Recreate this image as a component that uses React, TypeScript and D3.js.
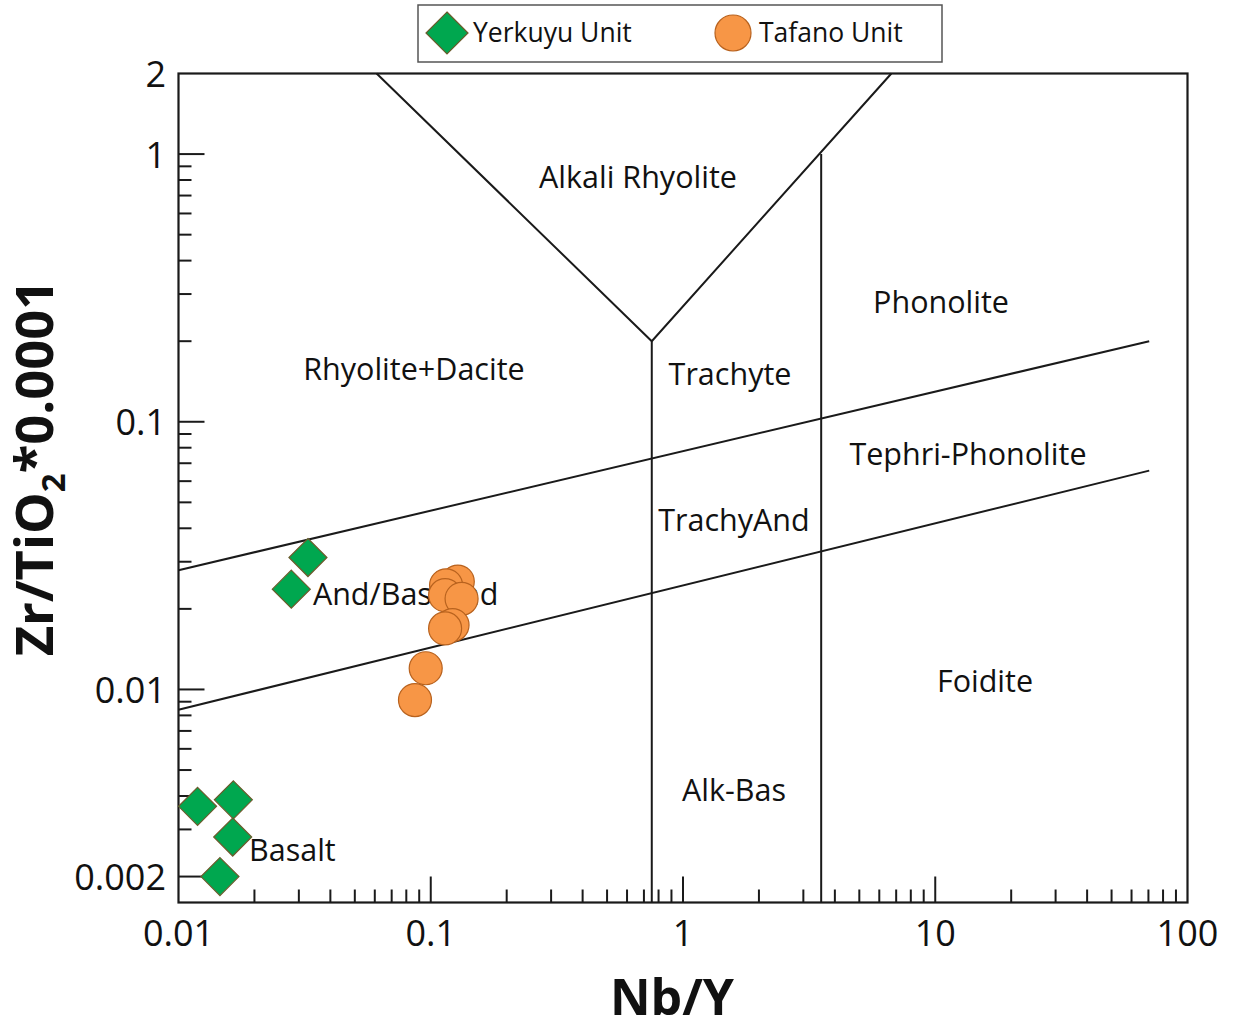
import React from "react";
import * as d3 from "d3";

// Nb/Y vs Zr/TiO2*0.0001 classification diagram (after Pearce, 1996)
const yerkuyuNbY = [0.0119, 0.0165, 0.0164, 0.0146, 0.0326, 0.028];
const yerkuyuZrTi = [0.00366, 0.00387, 0.00281, 0.002, 0.0311, 0.0237];

const tafanoNbY = [0.128, 0.115, 0.114, 0.1325, 0.122, 0.114, 0.0955, 0.0866];
const tafanoZrTi = [0.0253, 0.0245, 0.0225, 0.0218, 0.0174, 0.0169, 0.012, 0.00913];

// Field boundaries as [Nb/Y, Zr/TiO2] vertices
const boundaryLines: [number, number][][] = [
  [[0.061, 2], [0.752, 0.2], [6.7, 2]],
  [[0.752, 0.2], [0.752, 0.0016]],
  [[3.53, 1.0], [3.53, 0.0016]],
  [[0.01, 0.0279], [70.5, 0.2]],
  [[0.01, 0.0084], [70.5, 0.0657]],
];

const fieldNames = [
  "Alkali Rhyolite",
  "Phonolite",
  "Rhyolite+Dacite",
  "Trachyte",
  "Tephri-Phonolite",
  "TrachyAnd",
  "And/Bas-And",
  "Foidite",
  "Alk-Bas",
  "Basalt",
];
// label anchor positions in data units
const fieldX = [0.663, 10.54, 0.0858, 1.536, 13.48, 1.593, 0.0341, 15.75, 1.593, 0.01904];
const fieldY = [0.827, 0.2825, 0.1587, 0.152, 0.0764, 0.0433, 0.0229, 0.01084, 0.00425, 0.002535];
const fieldAnchor = ["middle", "middle", "middle", "middle", "middle", "middle", "start", "middle", "middle", "start"];

const xTickLabels = ["0.01", "0.1", "1", "10", "100"];
const xTickValues = [0.01, 0.1, 1, 10, 100];
const yTickLabels = ["2", "1", "0.1", "0.01", "0.002"];
const yTickValues = [2, 1, 0.1, 0.01, 0.002];

const FONT = "'Open Sans', 'Noto Sans', sans-serif";

export default function App() {
  const width = 1240;
  const height = 1031;
  const left = 178.5;
  const right = 1187.5;
  const top = 73.5;
  const bottom = 902.5;

  const x = d3.scaleLog().domain([0.01, 100]).range([left, right]);
  const y = d3.scaleLog().domain([0.0016, 2]).range([bottom, top]);

  const line = d3
    .line<[number, number]>()
    .x((d) => x(d[0]))
    .y((d) => y(d[1]));

  // minor ticks
  const xMinor: number[] = [];
  [0.01, 0.1, 1, 10].forEach((dec) => {
    for (let k = 2; k <= 9; k++) xMinor.push(dec * k);
  });
  const yMinor: number[] = [];
  [0.001, 0.01, 0.1].forEach((dec) => {
    for (let k = 2; k <= 9; k++) {
      const v = dec * k;
      if (v > 0.0016 && k !== 2 || (dec !== 0.001 && k === 2)) yMinor.push(v);
    }
  });
  const majorLen = 26;
  const minorLen = 13;

  const diamond = (cx: number, cy: number, r: number) =>
    `M${cx},${cy - r}L${cx + r},${cy}L${cx},${cy + r}L${cx - r},${cy}Z`;

  return (
    <svg
      width={width}
      height={height}
      style={{ position: "absolute", left: 0, top: 0, background: "#fff" }}
      fontFamily={FONT}
    >
      {/* legend */}
      <rect x={418} y={5} width={524} height={57} fill="#fff" stroke="#555" strokeWidth={1.5} />
      <path d={diamond(447, 33, 21)} fill="#00A74F" stroke="#6B5B2C" strokeWidth={1.2} />
      <text x={473} y={42} fontSize={26.5} fill="#111">
        Yerkuyu Unit
      </text>
      <circle cx={733} cy={33} r={18} fill="#F79646" stroke="#B8621E" strokeWidth={1.2} />
      <text x={759} y={42} fontSize={26.5} fill="#111">
        Tafano Unit
      </text>

      {/* field boundaries */}
      {boundaryLines.map((pts, i) => (
        <path key={i} d={line(pts) || ""} fill="none" stroke="#1a1a1a" strokeWidth={2} />
      ))}

      {/* field labels */}
      {fieldNames.map((name, i) => (
        <text
          key={name}
          x={x(fieldX[i])}
          y={y(fieldY[i])}
          fontSize={30.5}
          textAnchor={fieldAnchor[i] as any}
          dominantBaseline="central"
          fill="#111"
        >
          {name}
        </text>
      ))}

      {/* ticks */}
      {xMinor.map((v) => (
        <line key={"xm" + v} x1={x(v)} x2={x(v)} y1={bottom} y2={bottom - minorLen} stroke="#1a1a1a" strokeWidth={2} />
      ))}
      {[0.1, 1, 10].map((v) => (
        <line key={"xM" + v} x1={x(v)} x2={x(v)} y1={bottom} y2={bottom - majorLen} stroke="#1a1a1a" strokeWidth={2} />
      ))}
      {yMinor.map((v) => (
        <line key={"ym" + v} x1={left} x2={left + minorLen} y1={y(v)} y2={y(v)} stroke="#1a1a1a" strokeWidth={2} />
      ))}
      {[1, 0.1, 0.01, 0.002].map((v) => (
        <line key={"yM" + v} x1={left} x2={left + majorLen} y1={y(v)} y2={y(v)} stroke="#1a1a1a" strokeWidth={2} />
      ))}

      {/* plot frame */}
      <rect x={left} y={top} width={right - left} height={bottom - top} fill="none" stroke="#1a1a1a" strokeWidth={2.2} />

      {/* tick labels */}
      {xTickValues.map((v, i) => (
        <text key={"xl" + v} x={x(v)} y={946} fontSize={36} textAnchor="middle" fill="#111">
          {xTickLabels[i]}
        </text>
      ))}
      {yTickValues.map((v, i) => (
        <text key={"yl" + v} x={166} y={y(v)} fontSize={36} textAnchor="end" dominantBaseline="central" fill="#111">
          {yTickLabels[i]}
        </text>
      ))}

      {/* axis titles */}
      <text x={672} y={1015} fontSize={50} fontWeight="bold" textAnchor="middle" fill="#111">
        Nb/Y
      </text>
      <text
        transform={`translate(53,468) rotate(-90)`}
        fontSize={52.5}
        fontWeight="bold"
        textAnchor="middle"
        fill="#111"
      >
        Zr/TiO
        <tspan fontSize={33} dy={12}>
          2
        </tspan>
        <tspan dy={-12}>*0.0001</tspan>
      </text>

      {/* samples */}
      {yerkuyuNbY.map((v, i) => (
        <path key={"yk" + i} d={diamond(x(v), y(yerkuyuZrTi[i]), 19)} fill="#00A74F" stroke="#6B5B2C" strokeWidth={1.2} />
      ))}
      {tafanoNbY.map((v, i) => (
        <circle key={"tf" + i} cx={x(v)} cy={y(tafanoZrTi[i])} r={16.5} fill="#F79646" stroke="#B8621E" strokeWidth={1.2} />
      ))}
    </svg>
  );
}
